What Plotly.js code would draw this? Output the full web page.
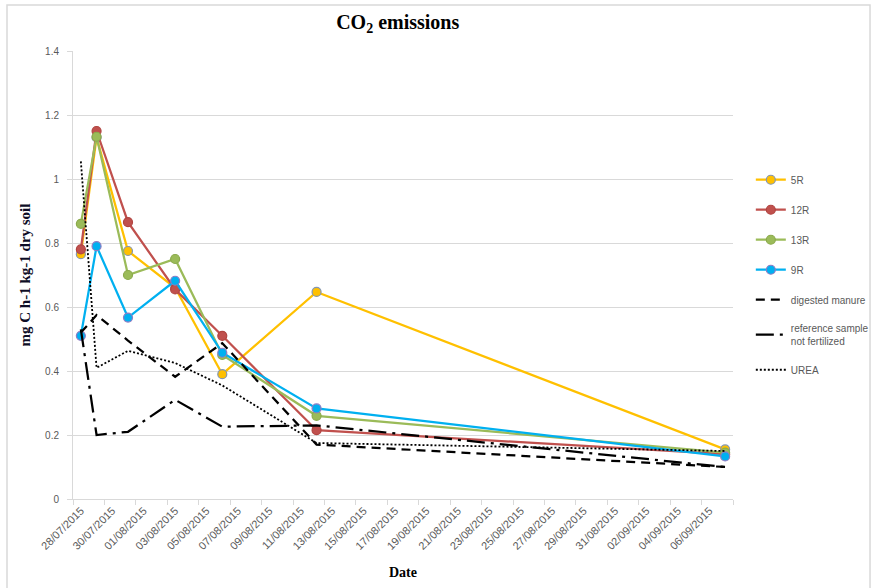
<!DOCTYPE html>
<html>
<head>
<meta charset="utf-8">
<script src="https://cdn.plot.ly/plotly-3.0.1.min.js"></script>
<style>html,body{margin:0;padding:0;background:#fff;}#chart{width:877px;height:588px;}</style>
</head>
<body>
<div id="chart"></div>
<script>
// Sampling dates
var sampleDates = ['2015-07-28','2015-07-29','2015-07-31','2015-08-03','2015-08-06','2015-08-12','2015-09-07'];

// Series values (mg C h-1 kg-1 dry soil)
var s5R  = [0.765, 1.13, 0.775, 0.66, 0.39, 0.647, 0.155];
var s12R = [0.78, 1.15, 0.865, 0.655, 0.51, 0.215, 0.14];
var s13R = [0.86, 1.132, 0.70, 0.75, 0.45, 0.26, 0.145];
var s9R  = [0.51, 0.79, 0.567, 0.682, 0.457, 0.283, 0.133];
var digestedManure = [0.52, 0.575, 0.495, 0.382, 0.487, 0.17, 0.10];
var referenceSample = [0.53, 0.20, 0.21, 0.31, 0.226, 0.23, 0.10];
var urea = [1.055, 0.41, 0.463, 0.425, 0.355, 0.175, 0.15];

// X tick positions and labels
var tickDates = ['2015-07-28','2015-07-30','2015-08-01','2015-08-03','2015-08-05','2015-08-07','2015-08-09',
  '2015-08-11','2015-08-13','2015-08-15','2015-08-17','2015-08-19','2015-08-21','2015-08-23','2015-08-25',
  '2015-08-27','2015-08-29','2015-08-31','2015-09-02','2015-09-04','2015-09-06'];
var tickLabels = ['28/07/2015','30/07/2015','01/08/2015','03/08/2015','05/08/2015','07/08/2015','09/08/2015',
  '11/08/2015','13/08/2015','15/08/2015','17/08/2015','19/08/2015','21/08/2015','23/08/2015','25/08/2015',
  '27/08/2015','29/08/2015','31/08/2015','02/09/2015','04/09/2015','06/09/2015'];

function colored(name, y, color, mline, grp) {
  return {
    type: 'scatter', mode: 'lines+markers', name: name, x: sampleDates, y: y,
    line: {color: color, width: 2.25},
    marker: {symbol: 'circle', size: 9, color: color, line: {color: mline, width: 1.2}},
    legendgroup: grp
  };
}
function black(name, y, dash, width, grp) {
  return {
    type: 'scatter', mode: 'lines', name: name, x: sampleDates, y: y,
    line: {color: '#000000', width: width, dash: dash},
    legendgroup: grp
  };
}

var traces = [
  colored('5R', s5R, '#FFC000', '#8496B0', 'g1'),
  colored('12R', s12R, '#C0504D', '#B04440', 'g2'),
  colored('13R', s13R, '#9BBB59', '#8BAA4C', 'g3'),
  colored('9R', s9R, '#00B0F0', '#8E7CC3', 'g4'),
  black('digested manure', digestedManure, '9px,6px', 2.25, 'g5'),
  black('reference sample<br>not fertilized', referenceSample, '18px,6px,3px,6px', 2.25, 'g6'),
  black('UREA', urea, '2px,2px', 1.8, 'g7')
];

var layout = {
  width: 877, height: 588,
  margin: {l: 73, r: 144, t: 51, b: 89, autoexpand: false},
  paper_bgcolor: '#ffffff', plot_bgcolor: '#ffffff',
  title: {
    text: '<b>CO<sub>2</sub> emissions</b>',
    font: {family: 'Liberation Serif, Times New Roman, serif', size: 20, color: '#000'},
    x: 0.492, xref: 'paper', xanchor: 'center', y: 0.963, yanchor: 'middle'
  },
  xaxis: {
    type: 'date',
    range: ['2015-07-27 12:00', '2015-09-07 12:00'],
    tickmode: 'array', tickvals: tickDates, ticktext: tickLabels,
    tickangle: -45, ticks: '',
    tickfont: {family: 'Liberation Sans, Arial, sans-serif', size: 11, color: '#595959'},
    showgrid: false, zeroline: false,
    showline: true, linecolor: '#d9d9d9', linewidth: 1,
    minor: {tick0: '2015-07-27 12:00', dtick: 172800000, ticks: 'outside', ticklen: 5, tickcolor: '#d9d9d9', tickwidth: 1, showgrid: false},
    title: {text: '<b>Date</b>', font: {family: 'Liberation Serif, Times New Roman, serif', size: 14, color: '#000'}, standoff: 16}
  },
  yaxis: {
    range: [0, 1.4], dtick: 0.2, tick0: 0,
    showgrid: true, gridcolor: '#d9d9d9', gridwidth: 1,
    zeroline: false, showline: true, linecolor: '#d9d9d9', linewidth: 1,
    ticks: 'outside', ticklen: 5, tickcolor: '#d9d9d9',
    ticklabelstandoff: 6,
    tickfont: {family: 'Liberation Sans, Arial, sans-serif', size: 10, color: '#595959'},
    title: {text: '<b>mg C h-1 kg-1 dry soil</b>', font: {family: 'Liberation Serif, Times New Roman, serif', size: 15, color: '#0d0d26'}, standoff: 10}
  },
  showlegend: true,
  legend: {
    x: 1.027, xanchor: 'left', y: 0.745, yanchor: 'top',
    traceorder: 'grouped', tracegroupgap: 11,
    font: {family: 'Liberation Sans, Arial, sans-serif', size: 10, color: '#595959'},
    bgcolor: 'rgba(0,0,0,0)'
  },
  shapes: [{
    type: 'rect', xref: 'paper', yref: 'paper',
    x0: -0.1, x1: 1.2076, y0: -0.21, y1: 1.1027,
    line: {color: '#d9d9d9', width: 1.5}, fillcolor: 'rgba(0,0,0,0)', layer: 'below'
  }]
};

Plotly.newPlot('chart', traces, layout, {displayModeBar: false, staticPlot: true});
</script>
</body>
</html>
